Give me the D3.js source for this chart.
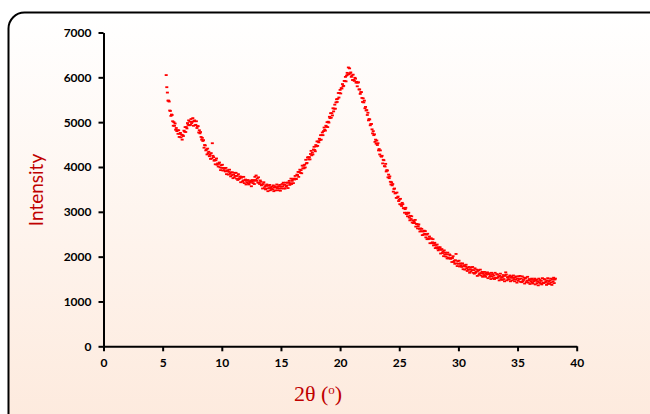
<!DOCTYPE html>
<html><head><meta charset="utf-8">
<script src="https://cdn.jsdelivr.net/npm/d3@7"></script>
<style>body{margin:0;background:#fff}svg{display:block}</style>
</head><body>
<svg id="c" width="650" height="414"></svg>
<script>
const xTicks = [0, 5, 10, 15, 20, 25, 30, 35, 40];
const yTicks = [0, 1000, 2000, 3000, 4000, 5000, 6000, 7000];
const xTitle = "2θ (";
const yTitle = "Intensity";
// XRD scan: start angle and step (degrees 2θ)
const twoThetaStart = 5.3;
const twoThetaStep = 0.05;
// intensity readings, 20 per degree, starting at 5.30°
const intensity = [
6050,5780,5660,5480,5480,5460,5260,5250,5140,5170,5160,5020,4920,5000,4920,4970,4830,4870,4800,4820,
4740,4820,4670,4740,4760,4660,4720,4610,4710,4690,4810,4790,4890,4780,4890,4860,4980,4940,5040,4930,
5010,4940,5070,4980,5010,5090,4920,5020,5040,4930,4940,5020,4870,4910,4910,4770,4820,4750,4780,4670,
4610,4650,4580,4600,4430,4490,4480,4370,4390,4280,4410,4310,4340,4240,4270,4180,4310,4190,4530,4250,
4220,4140,4160,4060,4150,4190,4050,4080,4010,4070,4100,3990,3930,4040,3980,4050,3920,3980,3930,3970,
3900,3980,3840,3910,3930,3830,3890,3940,3850,3790,3880,3820,3880,3750,3830,3770,3870,3800,3870,3740,
3800,3710,3840,3730,3750,3790,3660,3760,3780,3670,3700,3780,3640,3700,3720,3610,3690,3650,3710,3630,
3610,3680,3650,3700,3570,3670,3710,3640,3690,3620,3780,3710,3810,3690,3740,3650,3770,3650,3620,3700,
3670,3590,3610,3520,3620,3660,3530,3570,3500,3580,3610,3520,3460,3580,3530,3600,3480,3550,3510,3560,
3500,3590,3460,3540,3570,3480,3550,3610,3530,3480,3570,3520,3600,3470,3560,3520,3620,3570,3650,3520,
3600,3520,3650,3560,3590,3650,3530,3650,3690,3600,3640,3740,3620,3690,3730,3640,3740,3720,3800,3740,
3730,3830,3820,3890,3780,3890,3940,3870,3930,3860,4030,3970,4030,3970,4050,3990,4160,4080,4090,4210,
4220,4170,4220,4170,4290,4360,4260,4320,4280,4390,4450,4380,4350,4490,4460,4570,4470,4570,4550,4630,
4600,4710,4610,4710,4770,4710,4800,4880,4830,4810,4920,4900,5000,4890,5010,4990,5120,5090,5200,5100,
5200,5150,5310,5240,5300,5390,5300,5440,5510,5450,5520,5650,5550,5650,5720,5640,5760,5750,5850,5800,
5810,5920,5920,6010,5910,6040,6100,6060,6220,6070,6200,6090,6110,6010,6040,5940,6060,5940,5920,5990,
5970,5880,5900,5800,5880,5890,5730,5730,5630,5670,5670,5540,5450,5530,5440,5480,5310,5340,5260,5270,
5160,5210,5040,5070,5060,4930,4960,4960,4840,4750,4800,4710,4730,4560,4610,4520,4590,4490,4530,4370,
4400,4280,4370,4240,4230,4250,4080,4160,4150,4020,4010,4070,3900,3930,3920,3770,3830,3750,3790,3670,
3610,3660,3590,3620,3450,3510,3520,3410,3420,3310,3430,3320,3340,3240,3270,3170,3290,3160,3130,3200,
3170,3080,3080,2980,3060,3090,2950,2980,2900,2960,2980,2870,2810,2910,2840,2900,2760,2810,2750,2790,
2750,2820,2670,2730,2730,2630,2680,2720,2620,2560,2630,2570,2620,2480,2560,2490,2580,2510,2570,2430,
2490,2390,2510,2390,2410,2450,2300,2400,2410,2300,2320,2390,2250,2290,2310,2190,2260,2210,2270,2180,
2140,2210,2170,2210,2070,2150,2170,2080,2110,2010,2140,2050,2090,2000,2050,1960,2090,1980,1960,2050,
2030,1950,1970,1880,1970,2010,1880,1910,1840,1920,2060,1850,1790,1900,1840,1910,1780,1850,1800,1840,
1770,1850,1720,1790,1810,1710,1780,1820,1740,1680,1760,1710,1770,1640,1720,1670,1760,1700,1770,1640,
1700,1620,1740,1640,1660,1710,1570,1680,1700,1600,1630,1710,1580,1630,1660,1550,1630,1590,1660,1580,
1550,1630,1600,1650,1520,1610,1630,1550,1590,1500,1640,1560,1610,1520,1580,1500,1640,1530,1520,1610,
1600,1530,1560,1470,1570,1620,1500,1540,1480,1550,1590,1500,1450,1570,1650,1600,1470,1540,1500,1550,
1490,1580,1450,1530,1560,1470,1530,1580,1500,1450,1540,1490,1560,1420,1510,1460,1560,1500,1570,1440,
1510,1430,1560,1450,1480,1530,1400,1510,1530,1430,1460,1550,1420,1470,1500,1390,1480,1440,1510,1420,
1400,1480,1450,1510,1380,1470,1490,1410,1450,1360,1510,1430,1480,1400,1460,1380,1520,1420,1410,1500,
1490,1420,1450,1370,1470,1520,1410,1450,1390,1470,1510,1420,1370,1500,1450,1530,1410,1490,1510
];
const twoTheta = intensity.map((_, i) => +(twoThetaStart + i * twoThetaStep).toFixed(2));

const svg = d3.select("#c");
const defs = svg.append("defs");
const grad = defs.append("linearGradient").attr("id","bg").attr("x1",0).attr("y1",0).attr("x2",0).attr("y2",1);
grad.append("stop").attr("offset","0%").attr("stop-color","#ffffff");
grad.append("stop").attr("offset","100%").attr("stop-color","#fde8da");

svg.append("rect").attr("x",8.5).attr("y",12.5).attr("width",700).attr("height",450)
  .attr("rx",16).attr("fill","url(#bg)").attr("stroke","#000").attr("stroke-width",2);

const x = d3.scaleLinear().domain([0,40]).range([103.5,576.7]);
const y = d3.scaleLinear().domain([0,7000]).range([346.3,32.5]);

const xAxis = svg.append("g").attr("transform","translate(0,346.3)")
  .call(d3.axisBottom(x).tickValues(xTicks).tickFormat(d3.format("d")).tickSize(5).tickSizeOuter(0).tickPadding(7));
const yAxis = svg.append("g").attr("transform","translate(103.5,0)")
  .call(d3.axisLeft(y).tickValues(yTicks).tickFormat(d3.format("d")).tickSize(5).tickSizeOuter(0).tickPadding(7));
[xAxis,yAxis].forEach(g=>{
  g.select(".domain").attr("stroke","#000").attr("stroke-width",2);
  g.selectAll(".tick line").attr("stroke","#000").attr("stroke-width",2);
  g.selectAll(".tick text").attr("fill","#000").style("font-family","Lato, 'Open Sans', sans-serif")
   .style("font-weight","bold").style("font-size","12px");
});

svg.append("g").selectAll("rect").data(intensity).join("rect")
  .attr("x",(d,i)=>x(twoTheta[i])-1.5)
  .attr("y",d=>y(d)-0.9)
  .attr("width",3).attr("height",1.8)
  .attr("fill","#ff0000");

svg.append("text").attr("transform","translate(43,190) rotate(-90)")
  .attr("text-anchor","middle").attr("fill","#c00000")
  .style("font-family","Lato, 'Open Sans', sans-serif").style("font-size","19px")
  .text(yTitle);

const xt = svg.append("text").attr("x",318).attr("y",401).attr("text-anchor","middle")
  .attr("fill","#c00000").style("font-family","'Liberation Serif','DejaVu Serif',serif").style("font-size","22px");
xt.append("tspan").text(xTitle);
xt.append("tspan").attr("dy",-7).style("font-size","13px").text("o");
xt.append("tspan").attr("dy",7).text(")");
</script>
</body></html>
